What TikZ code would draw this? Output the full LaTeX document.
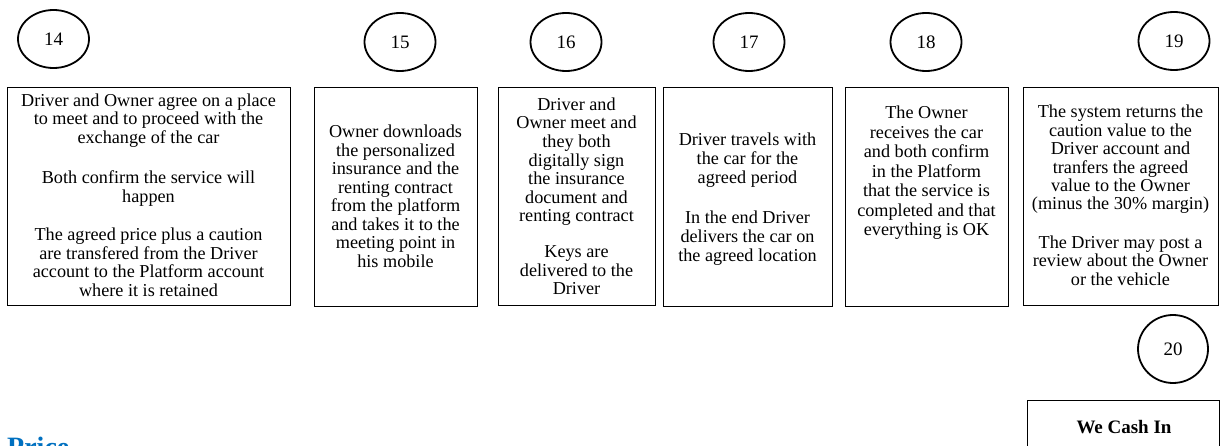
\documentclass[tikz,border=0pt]{standalone}
\usepackage{fontspec}
\setmainfont{Liberation Serif}
\usetikzlibrary{shapes.geometric}
\definecolor{pricecol}{HTML}{0070C0}
\begin{document}
\begin{tikzpicture}[x=1pt,y=-1pt,
  stepcircle/.style={draw=black,line width=1.8pt,ellipse,minimum width=71pt,minimum height=58pt,inner sep=0pt,font=\fontsize{19}{21}\selectfont},
  stepbox/.style={draw=black,line width=1.3pt,anchor=north west,inner sep=0pt},
  boxtext/.style={align=center,inner sep=0pt,anchor=north},
]
\useasboundingbox (0,0) rectangle (1223,446);

% circles
\node[stepcircle] (c14) at (53.5,39) {14};
\node[stepcircle] (c15) at (400,42) {15};
\node[stepcircle] (c16) at (566,42) {16};
\node[stepcircle] (c17) at (749,42) {17};
\node[stepcircle] (c18) at (926,42) {18};
\node[stepcircle] (c19) at (1174,41) {19};
\node[stepcircle,minimum width=70pt,minimum height=68pt] (c20) at (1173,349) {20};

% boxes
\node[stepbox,minimum width=283pt,minimum height=218pt] (b14) at (7,87) {};
\node[stepbox,minimum width=163pt,minimum height=219pt] (b15) at (314,87) {};
\node[stepbox,minimum width=157pt,minimum height=218pt] (b16) at (498,87) {};
\node[stepbox,minimum width=169pt,minimum height=219pt] (b17) at (663,87) {};
\node[stepbox,minimum width=163pt,minimum height=219pt] (b18) at (845,87) {};
\node[stepbox,minimum width=195pt,minimum height=218pt] (b19) at (1023,87) {};
\node[stepbox,minimum width=192pt,minimum height=80pt] (cash) at (1027,400) {};

% texts
\node[boxtext,font=\fontsize{18.2}{18.5}\selectfont] (t14) at (148.5,93.4)
 {Driver and Owner agree on a place\\to meet and to proceed with the\\exchange of the car\\[22pt]Both confirm the service will\\happen\\[20pt]The agreed price plus a caution\\are transfered from the Driver\\account to the Platform account\\where it is retained};
\node[boxtext,font=\fontsize{18.2}{18.5}\selectfont] (t15) at (395.5,125)
 {Owner downloads\\the personalized\\insurance and the\\renting contract\\from the platform\\and takes it to the\\meeting point in\\his mobile};
\node[boxtext,font=\fontsize{18.2}{18.6}\selectfont] (t16) at (576.5,97.5)
 {Driver and\\Owner meet and\\they both\\digitally sign\\the insurance\\document and\\renting contract\\[17pt]Keys are\\delivered to the\\Driver};
\node[boxtext,font=\fontsize{18.2}{19}\selectfont] (t17) at (747.5,133)
 {Driver travels with\\the car for the\\agreed period\\[21pt]In the end Driver\\delivers the car on\\the agreed location};
\node[boxtext,font=\fontsize{18.2}{19.5}\selectfont] (t18) at (926.5,106)
 {The Owner\\receives the car\\and both confirm\\in the Platform\\that the service is\\completed and that\\everything is OK};
\node[boxtext,font=\fontsize{18.2}{18.4}\selectfont] (t19) at (1120.5,105)
 {The system returns the\\caution value to the\\Driver account and\\tranfers the agreed\\value to the Owner\\(minus the 30\% margin)\\[20pt]The Driver may post a\\review about the Owner\\or the vehicle};

\node[anchor=base,inner sep=0pt,font=\fontsize{19}{21}\selectfont\bfseries] (cashtext) at (1124,433) {We Cash In};
\node[anchor=north west,inner sep=0pt,text=pricecol,font=\fontsize{28}{30}\selectfont\bfseries] (price) at (7,437) {Price};
\end{tikzpicture}
\end{document}
